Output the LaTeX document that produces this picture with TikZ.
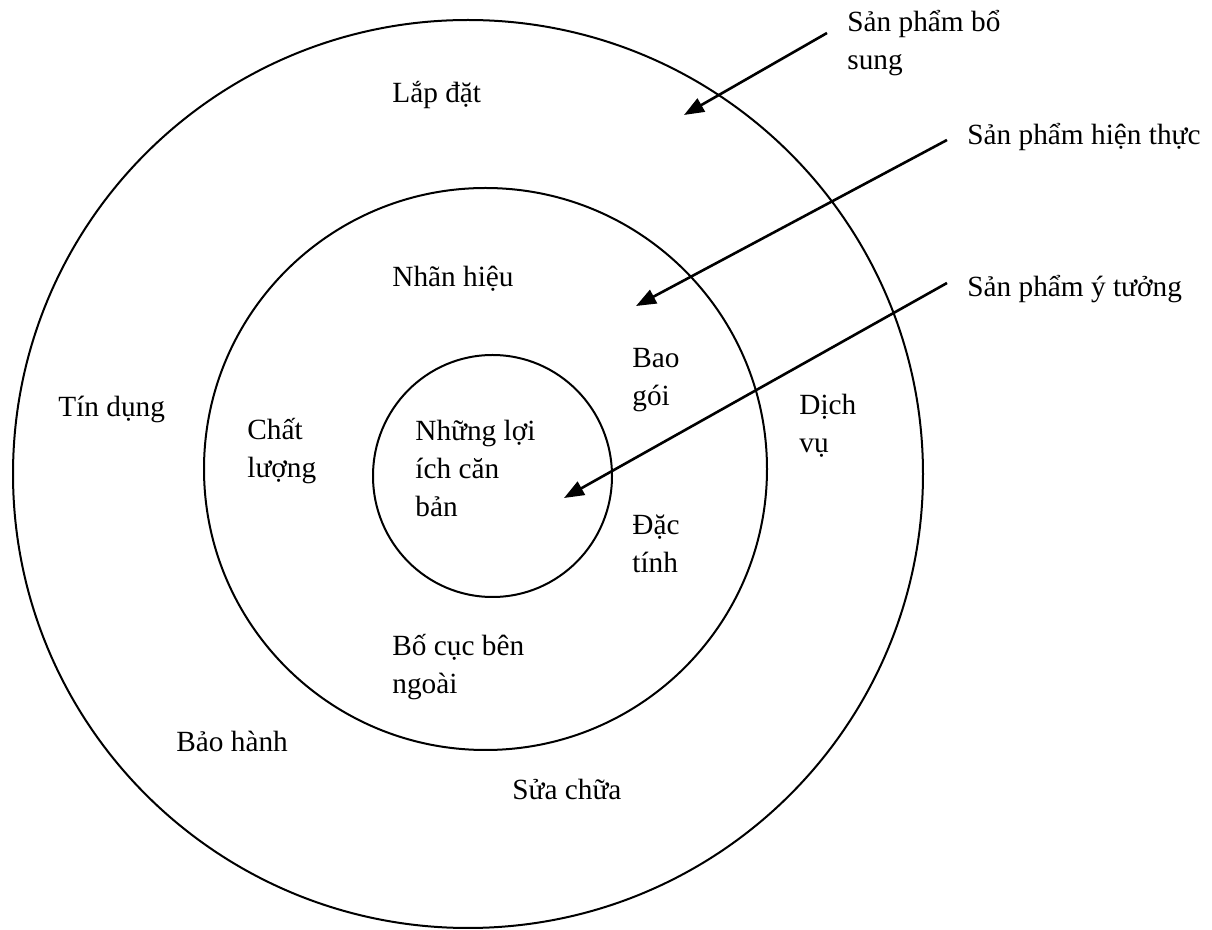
\documentclass[tikz,border=0pt]{standalone}
\usepackage{fontspec}
\setmainfont{Liberation Serif}
\usetikzlibrary{arrows.meta}
\begin{document}
\begin{tikzpicture}[x=0.5pt,y=-0.5pt,
  ring/.style={line width=1pt},
  pointer/.style={line width=1.3pt,-{Triangle[length=10pt,width=7.5pt]}},
  % labels are placed by the baseline of their last line
  lbl/.style={anchor=base west,inner sep=0pt,align=left,
    font=\fontsize{14.65pt}{19pt}\selectfont},
]
\useasboundingbox (0,0) rectangle (1212,930);

% three nested levels of the product
\draw[ring] (468,474) ellipse [x radius=227.5pt, y radius=227pt];
\draw[ring] (485.5,469) ellipse [x radius=140.75pt, y radius=140.5pt];
\draw[ring] (492.5,476) ellipse [x radius=59.75pt, y radius=60.5pt];

% level captions
\node[lbl] (bosung) at (847,70) {Sản phẩm bổ\\sung};
\node[lbl] (hienthuc) at (967,145) {Sản phẩm hiện thực};
\node[lbl] (ytuong) at (967,297) {Sản phẩm ý tưởng};

% outer ring
\node[lbl] (lapdat) at (392,103) {Lắp đặt};
\node[lbl] (tindung) at (58,417) {Tín dụng};
\node[lbl] (dichvu) at (799,453) {Dịch\\vụ};
\node[lbl] (baohanh) at (176,752) {Bảo hành};
\node[lbl] (suachua) at (512,800) {Sửa chữa};

% middle ring
\node[lbl] (nhanhieu) at (392,287) {Nhãn hiệu};
\node[lbl] (chatluong) at (247,478) {Chất\\lượng};
\node[lbl] (baogoi) at (632,406) {Bao\\gói};
\node[lbl] (dactinh) at (632,573) {Đặc\\tính};
\node[lbl] (bocuc) at (392,694) {Bố cục bên\\ngoài};

% core
\node[lbl] (loiich) at (415,517) {Những lợi\\ích căn\\bản};

% pointers from captions into the rings
\coordinate (s1) at (827,33);
\coordinate (e1) at (684,115);
\coordinate (s2) at (947,140);
\coordinate (e2) at (636,306);
\coordinate (s3) at (947,283);
\coordinate (e3) at (564,498);
\draw[pointer] (s1) -- (e1);
\draw[pointer] (s2) -- (e2);
\draw[pointer] (s3) -- (e3);
\end{tikzpicture}
\end{document}
